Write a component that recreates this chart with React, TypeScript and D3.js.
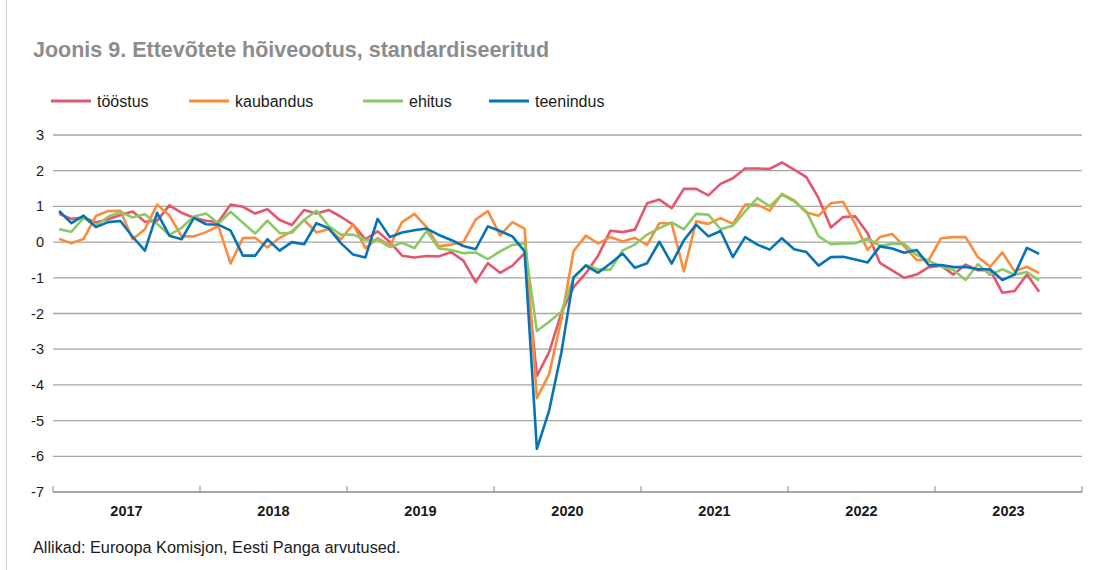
import React from "react";
import * as d3 from "d3";

const years = ["2017", "2018", "2019", "2020", "2021", "2022", "2023"];
const yTicks = [3, 2, 1, 0, -1, -2, -3, -4, -5, -6, -7];
const seriesNames = ["tööstus", "kaubandus", "ehitus", "teenindus"];
const seriesColors = ["#E4566F", "#FA8C3C", "#8CC864", "#0773B7"];

// monthly values, Jan 2017 .. Sep 2023
const toostus = [
  0.79, 0.65, 0.69, 0.55, 0.64, 0.76, 0.86, 0.57, 0.6, 1.03, 0.82, 0.68, 0.6, 0.56, 1.05, 0.99,
  0.8, 0.92, 0.62, 0.48, 0.9, 0.8, 0.9, 0.71, 0.49, 0.08, 0.3, 0.0, -0.38, -0.43, -0.39, -0.4,
  -0.28, -0.52, -1.12, -0.59, -0.86, -0.66, -0.31, -3.75, -3.08, -1.98, -1.26, -0.87, -0.38, 0.32, 0.28, 0.35,
  1.09, 1.19, 0.95, 1.49, 1.49, 1.31, 1.63, 1.79, 2.06, 2.06, 2.05, 2.23, 2.03, 1.82, 1.23, 0.41,
  0.7, 0.72, 0.25, -0.58, -0.79, -1.0, -0.91, -0.7, -0.66, -0.91, -0.63, -0.79, -0.78, -1.42, -1.37, -0.91, -1.39,
];
const kaubandus = [
  0.09, -0.03, 0.09, 0.73, 0.87, 0.88, 0.08, 0.36, 1.05, 0.75, 0.16, 0.16, 0.28, 0.45, -0.6, 0.11,
  0.12, -0.15, 0.12, 0.3, 0.62, 0.27, 0.36, 0.08, 0.5, -0.17, 0.11, -0.1, 0.56, 0.79, 0.42, -0.12,
  -0.07, 0.0, 0.63, 0.87, 0.19, 0.56, 0.38, -4.37, -3.7, -2.17, -0.25, 0.18, -0.04, 0.14, 0.02, 0.12,
  -0.08, 0.53, 0.53, -0.82, 0.58, 0.51, 0.67, 0.51, 1.05, 1.05, 0.88, 1.35, 1.17, 0.83, 0.74, 1.09,
  1.13, 0.5, -0.22, 0.14, 0.23, -0.12, -0.5, -0.5, 0.11, 0.14, 0.14, -0.42, -0.69, -0.29, -0.82, -0.69, -0.87,
];
const ehitus = [
  0.36, 0.29, 0.68, 0.45, 0.71, 0.85, 0.69, 0.78, 0.51, 0.2, 0.4, 0.72, 0.8, 0.52, 0.85, 0.54,
  0.24, 0.6, 0.25, 0.26, 0.62, 0.88, 0.45, 0.21, 0.21, 0.06, 0.06, -0.14, -0.02, -0.17, 0.31, -0.18,
  -0.22, -0.31, -0.29, -0.48, -0.26, -0.08, -0.03, -2.49, -2.23, -1.95, -1.0, -0.64, -0.77, -0.77, -0.23, -0.07,
  0.21, 0.39, 0.55, 0.36, 0.79, 0.77, 0.36, 0.46, 0.86, 1.23, 1.0, 1.33, 1.14, 0.86, 0.16, -0.06,
  -0.04, -0.03, 0.1, -0.1, -0.05, -0.05, -0.36, -0.53, -0.68, -0.78, -1.06, -0.62, -0.92, -0.76, -0.91, -0.84, -1.08,
];
const teenindus = [
  0.87, 0.53, 0.74, 0.42, 0.56, 0.59, 0.15, -0.24, 0.82, 0.18, 0.08, 0.68, 0.5, 0.49, 0.32, -0.38,
  -0.38, 0.08, -0.24, 0.0, -0.06, 0.53, 0.39, -0.03, -0.35, -0.43, 0.65, 0.14, 0.27, 0.33, 0.38, 0.2,
  0.06, -0.11, -0.2, 0.44, 0.31, 0.16, -0.26, -5.79, -4.72, -3.09, -0.98, -0.66, -0.86, -0.6, -0.32, -0.72,
  -0.59, 0.01, -0.6, 0.05, 0.49, 0.16, 0.31, -0.42, 0.14, -0.07, -0.21, 0.11, -0.2, -0.28, -0.66, -0.42,
  -0.41, -0.49, -0.57, -0.12, -0.18, -0.3, -0.22, -0.65, -0.64, -0.7, -0.7, -0.76, -0.76, -1.06, -0.91, -0.16, -0.33,
];
const allSeries = [toostus, kaubandus, ehitus, teenindus];

const W = 1095;
const H = 570;
const FONT = "'Liberation Sans', Arial, Helvetica, sans-serif";

export default function App() {
  const x = d3.scaleLinear().domain([0, 84]).range([53, 1082]);
  const y = d3.scaleLinear().domain([-7, 3]).range([492, 135]);
  const line = d3
    .line<number>()
    .x((_, i) => x(i + 0.5))
    .y((d) => y(d));

  const legendX = [51, 189, 363, 489];

  return (
    <svg
      width={W}
      height={H}
      style={{ position: "absolute", left: 0, top: 0, background: "#fff" }}
      fontFamily={FONT}
    >
      <line x1={6.5} x2={6.5} y1={0} y2={H} stroke="#d0d0d0" strokeWidth={1} />
      <text x={33} y={57} fontSize={21.5} fontWeight="bold" fill="#8c8c8c">
        Joonis 9. Ettevõtete hõiveootus, standardiseeritud
      </text>

      {seriesNames.map((n, k) => (
        <g key={n}>
          <line
            x1={legendX[k]}
            x2={legendX[k] + 40}
            y1={101}
            y2={101}
            stroke={seriesColors[k]}
            strokeWidth={3}
          />
          <text x={legendX[k] + 46} y={106.5} fontSize={16} fill="#1a1a1a">
            {n}
          </text>
        </g>
      ))}

      {yTicks.map((t) => (
        <g key={t}>
          {t > -7 && (
            <line
              x1={53}
              x2={1082}
              y1={y(t)}
              y2={y(t)}
              stroke="#a6a6a6"
              strokeWidth={1.3}
            />
          )}
          <text
            x={44}
            y={y(t) + 5}
            textAnchor="end"
            fontSize={14.5}
            fill="#1a1a1a"
          >
            {t}
          </text>
        </g>
      ))}

      <line x1={53} x2={1082} y1={y(-7)} y2={y(-7)} stroke="#8a8a8a" strokeWidth={1.3} />
      {d3.range(0, 8).map((k) => (
        <line
          key={k}
          x1={x(k * 12)}
          x2={x(k * 12)}
          y1={y(-7)}
          y2={y(-7) - 6}
          stroke="#8a8a8a"
          strokeWidth={1}
        />
      ))}
      {years.map((yr, k) => (
        <text
          key={yr}
          x={x(k * 12 + 6)}
          y={516}
          textAnchor="middle"
          fontSize={14.5}
          fontWeight="bold"
          fill="#1a1a1a"
        >
          {yr}
        </text>
      ))}

      {allSeries.map((s, k) => (
        <path
          key={k}
          d={line(s) || ""}
          fill="none"
          stroke={seriesColors[k]}
          strokeWidth={2.6}
          strokeLinejoin="round"
        />
      ))}

      <text x={33} y={553} fontSize={16.3} fill="#1a1a1a">
        Allikad: Euroopa Komisjon, Eesti Panga arvutused.
      </text>
    </svg>
  );
}
